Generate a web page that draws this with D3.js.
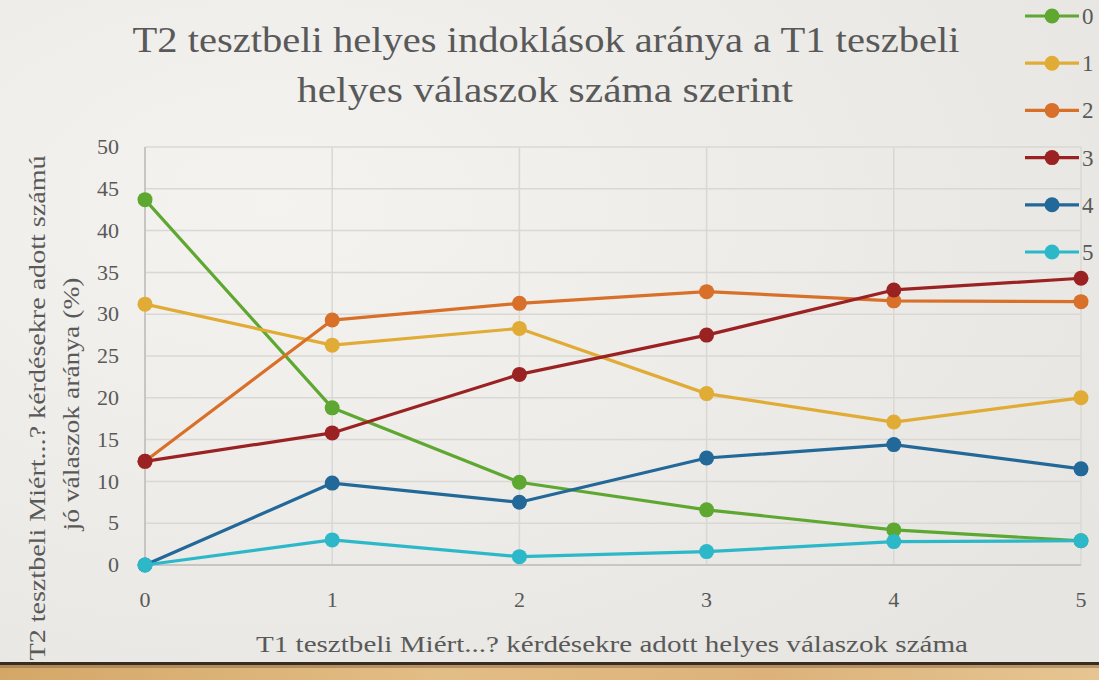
<!DOCTYPE html>
<html>
<head>
<meta charset="utf-8">
<title>T2 tesztbeli helyes indoklások</title>
<style>
  body, html { margin: 0; padding: 0; overflow: hidden; }
  text { font-family: "Liberation Serif", "DejaVu Serif", serif; }
</style>
</head>
<body>
<svg id="svg" width="1099" height="680"></svg>
<script src="https://d3js.org/d3.v7.min.js"></script>
<script>
// data
const categories = [0, 1, 2, 3, 4, 5]
const seriesNames = ['0', '1', '2', '3', '4', '5']
const s0 = [43.7, 18.8, 9.9, 6.6, 4.2, 2.9]
const s1 = [31.2, 26.3, 28.3, 20.5, 17.1, 20.0]
const s2 = [12.4, 29.3, 31.3, 32.7, 31.6, 31.5]
const s3 = [12.4, 15.8, 22.8, 27.5, 32.9, 34.3]
const s4 = [0, 9.8, 7.5, 12.8, 14.4, 11.5]
const s5 = [0, 3.0, 1.0, 1.6, 2.8, 2.9]
const yTicks = [0, 5, 10, 15, 20, 25, 30, 35, 40, 45, 50]
const colors = ['#5ea832', '#e0ac36', '#d8702a', '#9b2223', '#226898', '#2db8c9']

const series = [s0, s1, s2, s3, s4, s5].map((values, i) => ({ name: seriesNames[i], values, color: colors[i] }))

const svg = d3.select('#svg')
const W = 1099, H = 680
const textColor = '#595959'

// background
const defs = svg.append('defs')
const bg = defs.append('radialGradient').attr('id', 'bg').attr('cx', '25%').attr('cy', '30%').attr('r', '90%')
bg.append('stop').attr('offset', '0%').attr('stop-color', '#f4f3f0')
bg.append('stop').attr('offset', '100%').attr('stop-color', '#e6e5e1')
svg.append('rect').attr('width', W).attr('height', H).attr('fill', 'url(#bg)')

// wooden strip at the bottom
const wood = defs.append('linearGradient').attr('id', 'wood').attr('x1', '0').attr('x2', '1')
wood.append('stop').attr('offset', '0%').attr('stop-color', '#d4a767')
wood.append('stop').attr('offset', '40%').attr('stop-color', '#e2bd85')
wood.append('stop').attr('offset', '70%').attr('stop-color', '#dcb27a')
wood.append('stop').attr('offset', '100%').attr('stop-color', '#e6c592')
svg.append('rect').attr('x', 0).attr('y', 664).attr('width', W).attr('height', 16).attr('fill', 'url(#wood)')
svg.append('rect').attr('x', 0).attr('y', 662).attr('width', W).attr('height', 3).attr('fill', '#3a2c1e')
svg.append('rect').attr('x', 0).attr('y', 665).attr('width', W).attr('height', 3).attr('fill', '#8a6a45').attr('opacity', 0.5)

const margin = { left: 145, right: 18, top: 147, bottom: 115 }
const x = d3.scaleLinear().domain([0, 5]).range([margin.left, W - margin.right])
const y = d3.scaleLinear().domain([0, 50]).range([H - margin.bottom, margin.top])

// grid
svg.append('g')
  .selectAll('line')
  .data(yTicks)
  .join('line')
  .attr('x1', x(0)).attr('x2', x(5))
  .attr('y1', d => y(d)).attr('y2', d => y(d))
  .attr('stroke', '#d9d8d5').attr('stroke-width', 1.5)

svg.append('g')
  .selectAll('line')
  .data(categories)
  .join('line')
  .attr('x1', d => x(d)).attr('x2', d => x(d))
  .attr('y1', y(0)).attr('y2', y(50))
  .attr('stroke', '#d9d8d5').attr('stroke-width', 1.5)

// axes lines
svg.append('line').attr('x1', x(0)).attr('x2', x(5)).attr('y1', y(0)).attr('y2', y(0))
  .attr('stroke', '#bfbebb').attr('stroke-width', 1.5)
svg.append('line').attr('x1', x(0)).attr('x2', x(0)).attr('y1', y(0)).attr('y2', y(50))
  .attr('stroke', '#bfbebb').attr('stroke-width', 1.5)

// tick labels
svg.append('g')
  .selectAll('text')
  .data(yTicks)
  .join('text')
  .attr('x', 119).attr('y', d => y(d))
  .attr('dy', '0.33em')
  .attr('text-anchor', 'end')
  .attr('font-size', 22)
  .attr('fill', textColor)
  .text(d => d)

svg.append('g')
  .selectAll('text')
  .data(categories)
  .join('text')
  .attr('x', d => x(d)).attr('y', 607)
  .attr('text-anchor', 'middle')
  .attr('font-size', 22)
  .attr('fill', textColor)
  .text(d => d)

// axis titles
svg.append('text')
  .attr('x', 612).attr('y', 652)
  .attr('text-anchor', 'middle')
  .attr('font-size', 23)
  .attr('textLength', 712).attr('lengthAdjust', 'spacingAndGlyphs')
  .attr('fill', textColor)
  .text('T1 tesztbeli Miért...? kérdésekre adott helyes válaszok száma')

const yTitle = svg.append('text')
  .attr('transform', 'rotate(-90)')
  .attr('text-anchor', 'middle')
  .attr('font-size', 23)
  .attr('fill', textColor)
yTitle.append('tspan').attr('x', -408).attr('y', 45)
  .attr('textLength', 505).attr('lengthAdjust', 'spacingAndGlyphs')
  .text('T2 tesztbeli Miért...? kérdésekre adott számú')
yTitle.append('tspan').attr('x', -404).attr('y', 79)
  .attr('textLength', 253).attr('lengthAdjust', 'spacingAndGlyphs')
  .text('jó válaszok aránya (%)')

// title
const title = svg.append('text')
  .attr('text-anchor', 'middle')
  .attr('font-size', 35)
  .attr('fill', textColor)
title.append('tspan').attr('x', 546).attr('y', 52)
  .attr('textLength', 827).attr('lengthAdjust', 'spacingAndGlyphs')
  .text('T2 tesztbeli helyes indoklások aránya a T1 teszbeli')
title.append('tspan').attr('x', 545).attr('y', 102)
  .attr('textLength', 496).attr('lengthAdjust', 'spacingAndGlyphs')
  .text('helyes válaszok száma szerint')

// lines
const line = d3.line().x((d, i) => x(categories[i])).y(d => y(d))

const g = svg.append('g')
  .selectAll('g')
  .data(series)
  .join('g')

g.append('path')
  .attr('d', d => line(d.values))
  .attr('fill', 'none')
  .attr('stroke', d => d.color)
  .attr('stroke-width', 3.2)
  .attr('stroke-linejoin', 'round')

g.selectAll('circle')
  .data(d => d.values.map(v => ({ v, color: d.color })))
  .join('circle')
  .attr('cx', (d, i) => x(categories[i]))
  .attr('cy', d => y(d.v))
  .attr('r', 7.5)
  .attr('fill', d => d.color)

// legend
const legend = svg.append('g')
  .selectAll('g')
  .data(series)
  .join('g')
  .attr('transform', (d, i) => `translate(0, ${16 + i * 47.2})`)

legend.append('line')
  .attr('x1', 1025).attr('x2', 1079)
  .attr('stroke', d => d.color).attr('stroke-width', 3.2)
legend.append('circle')
  .attr('cx', 1052).attr('r', 7.5)
  .attr('fill', d => d.color)
legend.append('text')
  .attr('x', 1082).attr('dy', '0.35em')
  .attr('font-size', 23)
  .attr('fill', textColor)
  .text(d => d.name)
</script>
</body>
</html>
